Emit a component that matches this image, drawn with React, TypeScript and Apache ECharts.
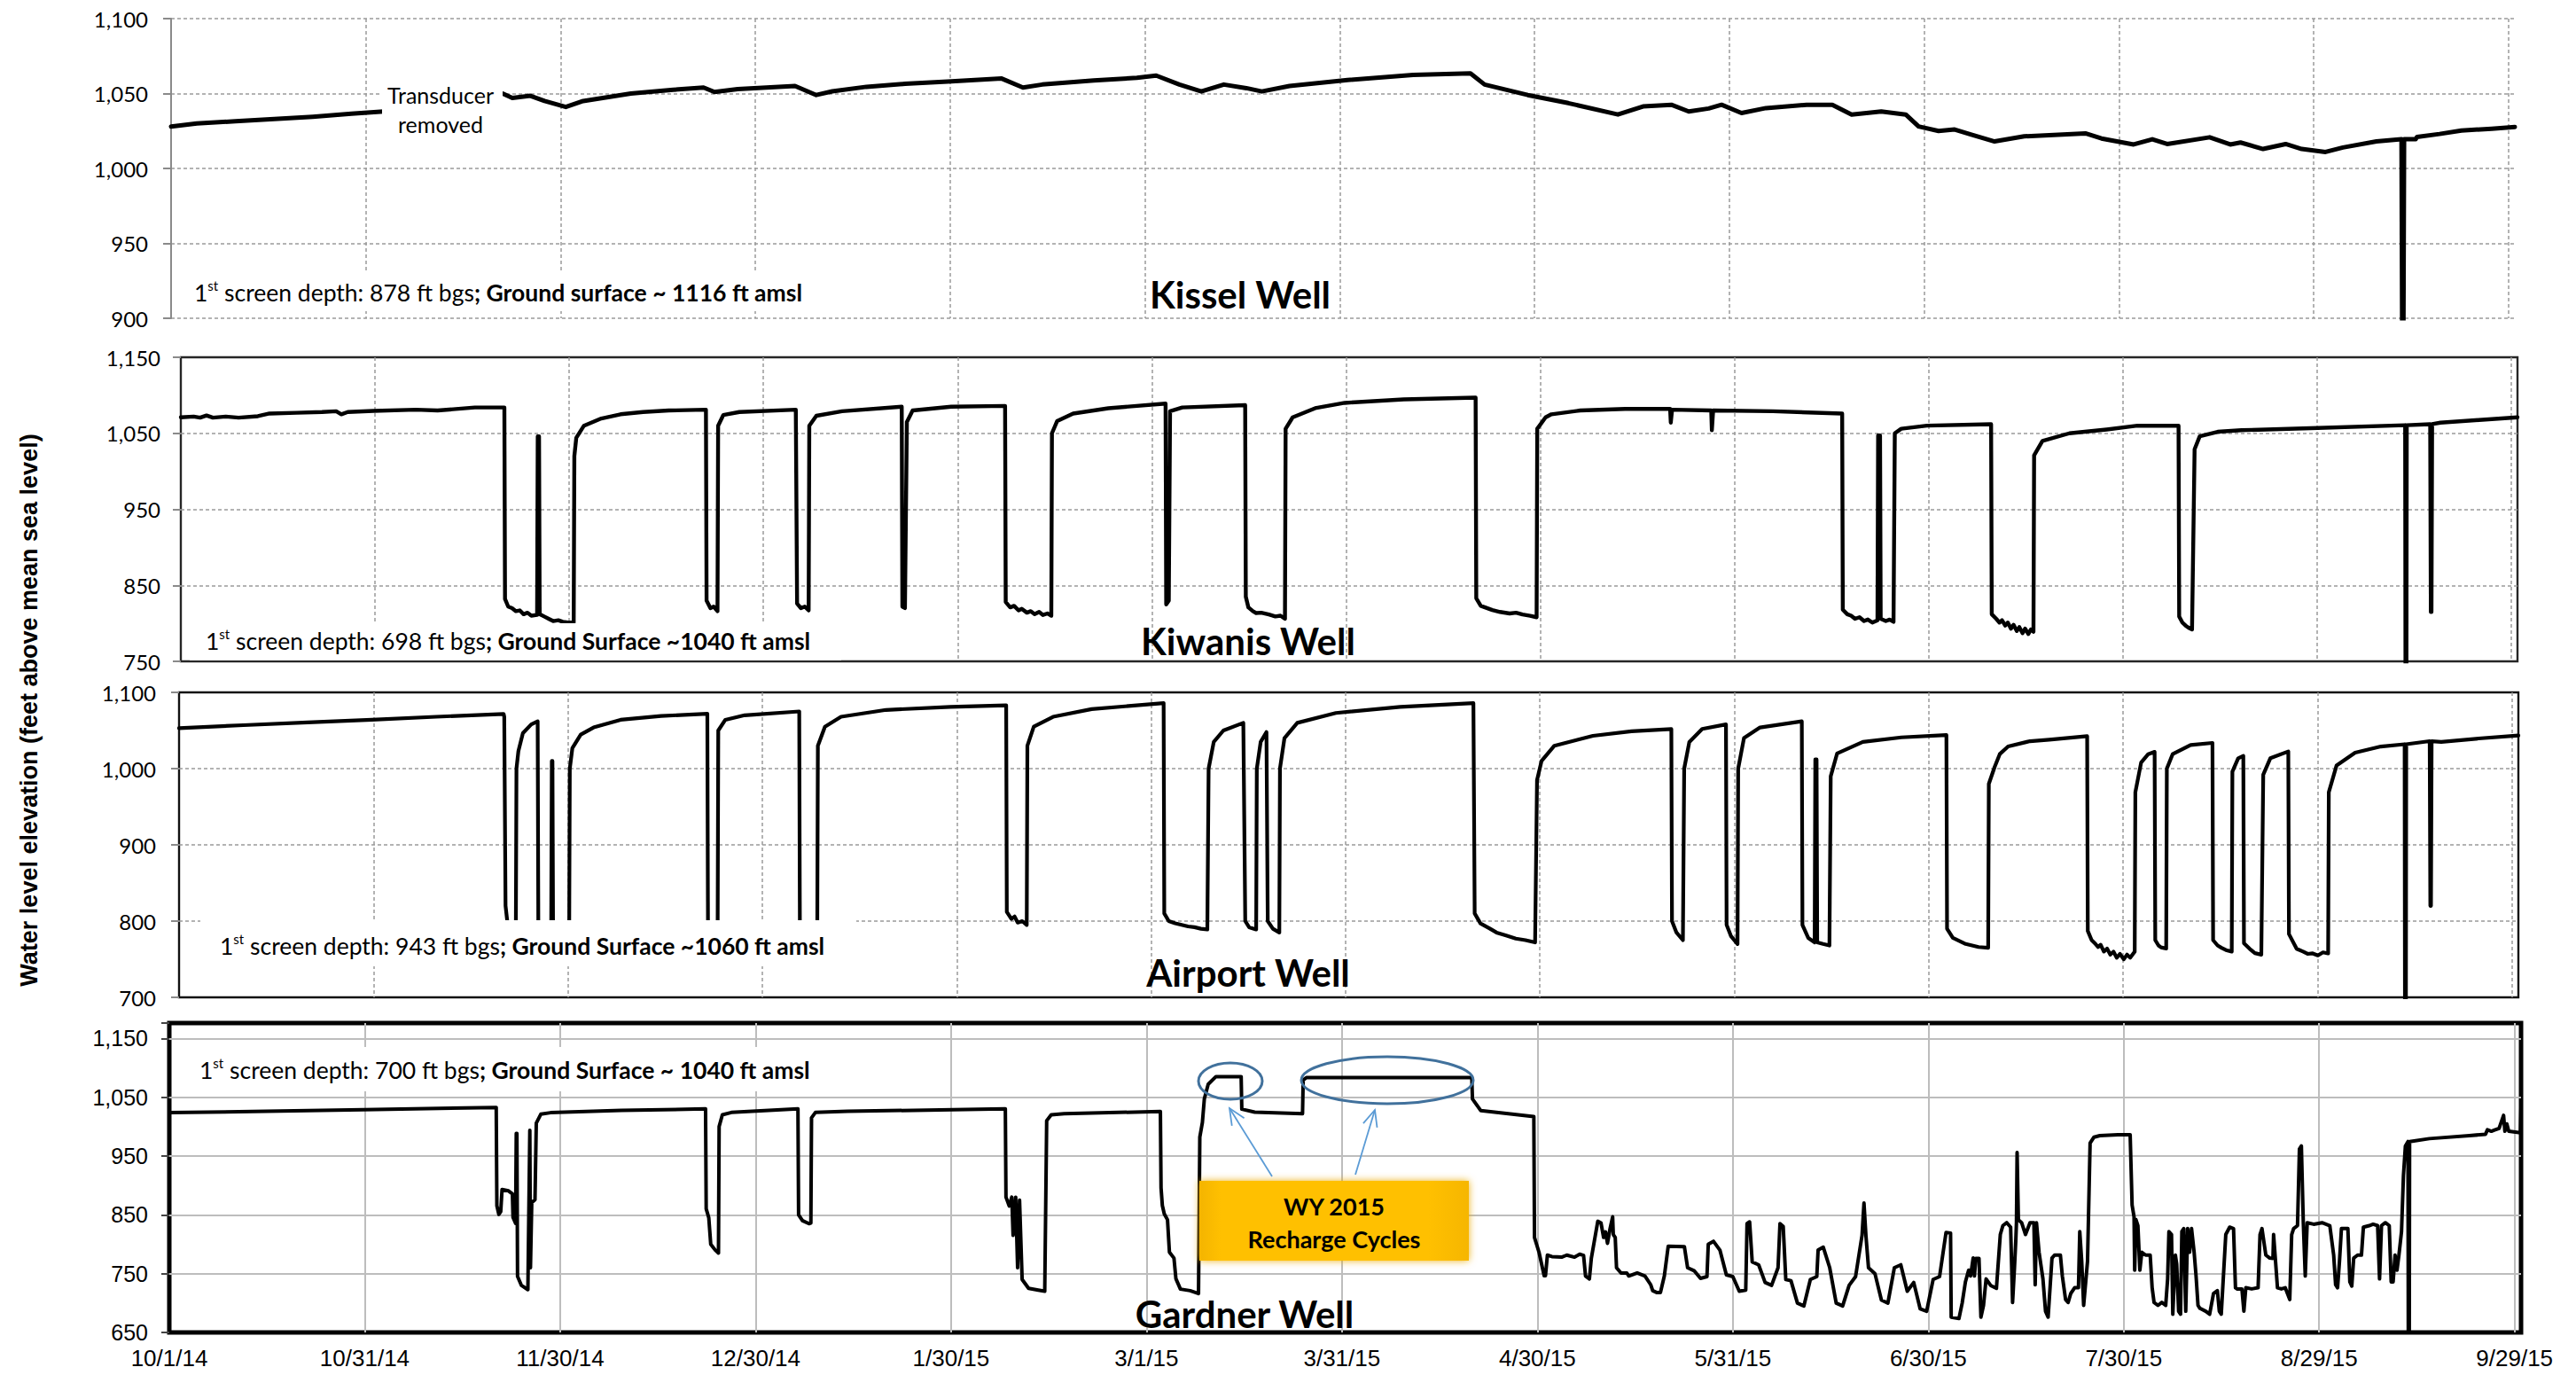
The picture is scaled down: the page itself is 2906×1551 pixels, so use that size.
import React, { useEffect, useRef } from 'react';
import * as echarts from 'echarts';

// Days are counted from 10/1/14 (day 0). Water levels in ft above mean sea level.
const DAY_SPAN = 364;
const TICK_STEP = 30.25;
const dateTicks = ['10/1/14', '10/31/14', '11/30/14', '12/30/14', '1/30/15', '3/1/15', '3/31/15', '4/30/15', '5/31/15', '6/30/15', '7/30/15', '8/29/15', '9/29/15'];

const kisselLevels: (number | null)[][] = [
  [0, 1028], [4, 1030], [10, 1031.5], [16, 1033], [22, 1034.5], [28, 1036.5], [33, 1038], [42, null],
  [51.5, 1050], [53, 1047], [55.8, 1048.5], [58, 1045], [61.3, 1041], [64, 1045], [71.4, 1050], [78, 1052.5],
  [82.7, 1054], [84.4, 1051], [88, 1053], [96.9, 1055], [100.2, 1049], [102.7, 1051.5], [108, 1054.5], [114, 1056.5],
  [120.6, 1058], [129, 1060], [132.3, 1054], [135.3, 1056], [143.3, 1058.7], [150, 1060.5], [153, 1062], [156.6, 1056],
  [160, 1051.4], [163.5, 1056], [167, 1053.6], [169.4, 1051.4], [173.7, 1055], [182.7, 1059], [192.9, 1062.4], [201.8, 1063.5],
  [204, 1056], [210.7, 1049], [217, 1043.6], [224.7, 1036], [228.6, 1041.4], [233, 1042.5], [235.7, 1038], [238.8, 1040],
  [240.8, 1042.5], [243.9, 1037], [247.7, 1040.3], [254, 1042.5], [258, 1042.5], [261, 1036], [265.6, 1038], [269.4, 1036],
  [271.4, 1028], [274.5, 1025], [277, 1026], [279.6, 1022.6], [283.2, 1018], [287.8, 1021.4], [297.3, 1023.4], [299.8, 1020],
  [304.8, 1016], [307.7, 1019.5], [310, 1016.3], [316.6, 1020.8], [319.8, 1016], [321.4, 1017.3], [324.9, 1013], [328.4, 1016.3],
  [330.9, 1013], [334.6, 1011], [337.3, 1014], [342.5, 1018], [346.4, 1019.5], [346.5, 895], [346.7, 895], [346.8, 1019.5],
  [348.6, 1019.5], [348.8, 1021], [352.3, 1023], [355.7, 1025.3], [360.4, 1026.5], [364, 1027.7],
];

const kiwanisLevels: number[][] = [
  [0, 1071], [2, 1072], [3, 1070.5], [4, 1073.5], [5, 1070.5], [7, 1072], [9, 1070.5], [12, 1072.5], [13.8, 1076], [18, 1077],
  [22, 1078], [24.2, 1079], [25, 1075], [26, 1078], [30, 1079.5], [36.6, 1081], [40, 1080], [45.8, 1084], [50.4, 1084],
  [50.5, 832], [51, 822], [51.6, 820], [52.2, 816], [52.8, 817], [53.4, 812], [54, 814], [54.6, 810], [55.5, 811],
  [55.6, 1046], [55.8, 1046], [55.9, 812], [56.6, 809], [57.3, 806], [58, 803], [58.8, 804], [59.5, 802], [60.3, 801], [61.2, 801],
  [61.3, 1020], [61.6, 1044], [62.8, 1060], [65.5, 1069.5], [68.5, 1075], [72, 1078], [76, 1080], [81.8, 1081],
  [81.9, 830], [82.5, 820], [83, 822], [83.6, 816], [83.7, 1060], [84.5, 1074], [87, 1078], [95.8, 1081],
  [96, 826], [96.6, 820], [97.2, 822], [97.8, 817], [97.9, 1060], [99, 1073], [103, 1079], [112.3, 1085],
  [112.4, 822], [112.8, 820], [113.1, 1065], [114, 1080], [120, 1085], [128.4, 1086],
  [128.5, 828], [129.2, 821], [129.8, 823], [130.5, 817], [131, 819], [131.8, 814], [132.4, 816], [133, 812], [133.7, 815],
  [134.3, 811], [135, 813], [135.6, 810], [135.7, 1050], [136.5, 1066], [139, 1076], [144.5, 1083], [153.4, 1089],
  [153.5, 825], [153.9, 830], [154.1, 1079], [156, 1084], [165.8, 1087],
  [165.9, 835], [166.3, 821], [167, 816], [167.5, 813.6], [168.3, 814], [169.5, 811.6], [170.5, 809], [171.3, 810], [172, 806],
  [172.1, 1056], [173.2, 1071], [176.7, 1083], [181.3, 1090], [190.5, 1094.6], [201.7, 1097],
  [201.8, 833], [202.5, 823], [204.3, 817.5], [205.5, 815], [207, 813], [208, 814], [209, 811.6], [210.2, 810], [211.2, 808],
  [211.3, 1056], [212.6, 1071], [213.5, 1075], [218, 1080], [225, 1082], [232, 1082], [232.1, 1064], [232.3, 1081],
  [238.4, 1080], [238.5, 1054], [238.7, 1080], [248, 1079], [258.8, 1076],
  [258.9, 818], [259.6, 812], [260.2, 810], [260.8, 806], [261.5, 808], [262.2, 803], [262.8, 805], [263.5, 801], [264.3, 804],
  [264.4, 1047], [264.7, 1047], [264.8, 806], [265.6, 803], [266.2, 805], [266.8, 802], [267, 1050], [268, 1056], [272, 1060], [282, 1062],
  [282.1, 812], [282.8, 806], [283.3, 801], [283.7, 804], [284.2, 797], [284.6, 801], [285.1, 793], [285.5, 798], [286, 790],
  [286.4, 795], [286.9, 787], [287.3, 793], [287.8, 786], [288.2, 792], [288.6, 789],
  [288.7, 1021], [290, 1040], [294.2, 1050], [300, 1055], [304.8, 1060], [311.2, 1060],
  [311.3, 809], [311.8, 801], [312.3, 797], [312.8, 794], [313.3, 792], [313.7, 1029], [314.5, 1046], [317.3, 1052], [321, 1054],
  [332.9, 1057], [346.5, 1060.7], [346.55, 740], [346.7, 740], [346.75, 1060.7], [350.4, 1062], [350.5, 815], [350.6, 815],
  [350.7, 1062], [352, 1064], [358, 1067.5], [364, 1071],
];

const airportLevels: number[][] = [
  [0, 1053], [10, 1057], [20, 1060.5], [30, 1064], [40, 1068], [50.5, 1071.7],
  [50.6, 1068], [50.8, 820], [51.2, 790], [52.4, 780], [52.5, 1000], [52.8, 1023], [53.5, 1046.5], [54.8, 1058], [55.8, 1062],
  [55.9, 800], [56.5, 780], [57.9, 778], [58, 1010], [58.1, 1010], [58.2, 778], [60.7, 775],
  [60.8, 1000], [61.2, 1027], [62.5, 1044.6], [64.5, 1054], [68.7, 1064], [75, 1069], [82.2, 1072],
  [82.3, 790], [83.8, 780], [83.9, 1050], [85, 1064], [88, 1070], [96.5, 1075],
  [96.6, 790], [99.3, 780], [99.4, 1030], [100.5, 1055], [103, 1068], [110, 1077], [120, 1081], [128.7, 1083],
  [128.8, 812], [129.5, 803], [130, 806], [130.5, 798], [131.2, 800], [131.9, 795],
  [132, 1030], [133, 1055], [136, 1068], [142, 1078], [153.2, 1086],
  [153.3, 810], [154, 800], [155, 797], [156, 795], [157, 793], [158, 792], [159, 790], [160, 789],
  [160.2, 1000], [161, 1035], [162.5, 1050], [165.6, 1060], [165.9, 800], [166.5, 792], [167.6, 789],
  [167.7, 1000], [168.3, 1035], [169.2, 1048], [169.4, 800], [170.2, 790], [171.2, 785],
  [171.3, 1000], [172, 1040], [174, 1060], [180, 1073], [190, 1081], [201.4, 1086],
  [201.6, 810], [202.5, 797], [204, 790], [205, 785], [206.5, 781], [208, 777], [209.5, 775], [211, 772],
  [211.3, 985], [212, 1010], [214, 1030], [220, 1043], [226, 1049], [232.2, 1052],
  [232.3, 800], [233, 785], [234, 775], [234.2, 1000], [235, 1035], [237, 1052], [240.7, 1058],
  [240.8, 795], [241.5, 780], [242.5, 770], [242.6, 1000], [243.5, 1040], [246, 1054], [252.5, 1062],
  [252.6, 795], [253.5, 778], [254.5, 772], [254.6, 1012], [254.8, 1012], [254.9, 772], [255.8, 770], [256.8, 768],
  [257, 990], [258, 1020], [262, 1035], [268, 1041], [275, 1044],
  [275.1, 790], [276, 778], [277, 774], [278, 770], [279, 768], [280, 766], [281.5, 765],
  [281.6, 980], [282.5, 1002], [283.3, 1019], [284.6, 1029], [288, 1036], [291, 1038], [296.9, 1042.6],
  [297, 787], [297.6, 775], [298.2, 770], [298.6, 766], [299, 769], [299.5, 760], [300, 764], [300.5, 756], [301, 760],
  [301.5, 752], [302, 757], [302.6, 750], [303.1, 756], [303.6, 752], [304.3, 760],
  [304.4, 969], [305.3, 1008], [306.4, 1019], [307.4, 1022], [307.5, 775], [308, 768], [308.4, 765.5], [309.2, 764],
  [309.3, 1000], [310.2, 1019], [313, 1031], [316.4, 1033.7], [316.5, 775], [317.2, 768], [317.8, 765], [318.5, 762], [319.4, 760],
  [319.5, 996], [320.4, 1013.6], [321.2, 1016.7], [321.3, 771], [322.2, 763.6], [323, 758], [324, 756],
  [324.3, 992], [325.4, 1013.6], [328.2, 1022.5], [328.3, 783], [329.5, 763.6], [330.5, 760], [331.2, 757], [332, 757.6],
  [332.8, 755], [333.6, 759], [334.4, 757.6],
  [334.5, 969], [335.7, 1004], [338.6, 1021], [342.6, 1029], [346.3, 1032], [346.35, 695], [346.5, 695], [346.55, 1032],
  [350.2, 1036], [350.3, 820], [350.4, 820], [350.5, 1036], [352, 1035], [357.8, 1039.5], [364, 1043.4],
];

const gardnerLevels: number[][] = [
  [0, 1023.6], [30, 1028.6], [50.6, 1032.6],
  [50.7, 865.6], [51, 850.6], [51.3, 855.6], [51.5, 893], [52.5, 890.7], [53.1, 885.7], [53.2, 845.6], [53.6, 835.6],
  [53.7, 988.5], [53.8, 988.5], [53.9, 745.3], [54.5, 730], [55.5, 722.7], [55.8, 993.5], [55.9, 760], [56.1, 870.7],
  [56.6, 875.7], [56.8, 1006], [57.5, 1021], [59, 1023.6], [70, 1027.6], [83, 1030],
  [83.1, 860], [83.5, 845], [83.8, 800], [84.5, 790], [85, 785], [85.1, 1000], [85.6, 1020], [87, 1024], [97.3, 1030],
  [97.4, 850], [98, 840], [99, 835], [99.3, 836], [99.4, 1015], [100, 1024], [105, 1026], [129.4, 1030],
  [129.5, 880], [130, 865], [130.4, 880], [130.6, 815], [131, 880], [131.3, 760], [131.6, 875], [132, 740], [133, 725],
  [134.5, 722], [135.5, 720], [135.8, 1010], [136.5, 1020], [138.5, 1022], [153.4, 1025.6],
  [153.5, 896], [153.7, 866], [154, 851.6], [154.5, 841.6], [154.8, 786.4], [155.5, 776.4], [155.8, 741.3], [156.5, 723.7],
  [158, 721], [159.3, 716], [159.5, 982], [159.9, 1007], [160.2, 1047], [160.8, 1072], [162, 1085], [165.9, 1085],
  [166, 1029.6], [168, 1024.6], [175.4, 1022], [175.5, 1079], [176, 1083.3], [201.6, 1083.3],
  [201.7, 1047], [203, 1027], [211.2, 1017],
  [211.3, 811.5], [212, 786.4], [212.8, 746.3], [213, 746.3], [213.3, 781.5], [214, 779], [215.5, 778], [216.3, 781.5],
  [217.5, 778], [218.3, 783], [218.9, 781], [219.2, 746], [219.8, 741], [220.1, 776], [221.1, 839], [221.6, 836], [222, 811.5],
  [222.3, 821], [222.6, 801.5], [223, 826.6], [223.4, 846.6], [223.5, 816.5], [223.8, 811.5], [224, 760], [224.7, 751],
  [225.6, 751], [225.9, 746], [227.2, 751], [228.4, 746], [229.3, 731], [229.6, 721], [230.2, 718], [230.8, 718], [231.4, 746],
  [232, 796.5], [234.5, 796], [235, 760], [236, 755], [237, 742], [238, 745], [238.2, 800], [239, 805], [240, 790], [241, 748],
  [242, 745], [243, 720], [244, 722], [244.2, 835], [244.6, 838], [245, 770], [246, 765], [247, 735], [248, 730], [249, 760],
  [249.3, 835], [249.8, 830], [250.2, 740], [251, 738], [252, 700], [253, 695], [254, 740], [255, 745], [255.2, 790], [256, 795],
  [257, 760], [258, 700], [259, 695], [260, 730], [261, 745], [262, 815], [262.3, 870], [262.6, 815], [263, 760], [264, 750],
  [265, 705], [266, 700], [267, 760], [268, 765], [269, 720], [270, 735], [271, 690], [272, 686], [273, 740], [274, 745],
  [275, 820], [275.7, 819],
  [275.8, 676], [277, 673.6], [277.5, 700], [278, 736], [278.5, 756], [278.8, 746], [279.2, 776.5], [279.4, 746], [279.6, 776],
  [280.1, 776], [280.4, 676], [280.8, 696], [281.2, 741], [281.9, 730], [282.8, 725], [283.4, 816.5], [283.8, 831.6],
  [284.4, 836.6], [285, 829], [285.3, 701], [285.6, 761], [285.8, 806.5], [285.9, 836.6], [286, 956], [286.2, 841.6],
  [286.7, 836.6], [287.3, 816.5], [288, 836.6], [288.6, 836.6], [288.8, 731], [289, 836.6], [289.4, 786.4], [290, 741],
  [290.4, 686], [290.8, 676], [291.1, 726], [291.4, 776.5], [291.8, 781.5], [292.7, 781.5], [293, 746], [293.5, 706],
  [293.9, 701], [294.3, 716], [294.6, 721], [294.9, 726], [295.5, 726], [295.7, 821.5], [296, 771], [296.3, 696], [296.9, 771],
  [297.3, 972], [297.9, 982], [298.8, 984.5], [301.6, 986], [303.5, 986],
  [303.8, 866.6], [304.1, 846.6], [304.2, 756], [304.4, 841.6], [304.7, 831.6], [305, 756], [305.3, 786.4], [305.9, 781.5],
  [306.6, 781.5], [306.9, 726], [307.2, 701], [307.8, 696], [308.4, 701], [309, 696], [309.3, 741], [309.5, 821.5],
  [309.9, 816.5], [310.1, 681], [310.5, 781.5], [310.7, 766.5], [311, 686], [311.3, 681], [311.5, 821.5], [311.8, 826.6],
  [312.1, 686], [312.4, 826.6], [312.7, 786.4], [313, 826.6], [313.4, 786.4], [313.7, 746], [314, 696], [314.3, 691],
  [315.2, 686], [315.8, 681], [316.4, 716], [317, 721], [317.3, 686], [317.6, 681], [318.3, 816.5], [318.9, 829],
  [319.5, 826.6], [319.8, 726], [320.1, 723.7], [320.8, 723.7], [321.1, 686], [321.4, 726], [322.3, 724], [323.3, 726],
  [323.6, 816.5], [323.9, 826.6], [324.5, 781.5], [325.1, 776.5], [325.6, 776], [325.7, 816.5], [326.3, 726], [326.9, 724],
  [327.5, 726], [328.2, 706], [328.5, 816.5], [328.8, 826.6], [329.4, 831.6], [329.7, 962], [330, 967], [330.3, 836.6],
  [330.6, 746], [330.9, 836.6], [331.9, 834], [333.2, 836.6], [334.4, 831.6], [335, 781.5], [335.3, 731], [335.6, 726],
  [335.9, 771], [336.2, 826.6], [337.2, 826.6], [337.5, 736], [337.8, 728.7], [338.1, 776.5], [338.7, 781.5], [339.3, 781.5],
  [339.6, 829], [340.5, 831.6], [341.1, 834], [341.8, 831.6], [342.1, 741], [342.4, 831.6], [343, 836.6], [343.6, 831.6],
  [343.9, 736], [344.2, 736], [344.5, 781.5], [344.8, 756], [345.1, 781.5], [345.5, 821.5], [345.8, 917], [346.1, 967],
  [346.5, 974.5], [346.55, 640], [346.7, 640], [346.75, 974.5], [349.8, 979.5], [356, 984.5], [358.5, 987], [358.8, 994.5],
  [359.4, 992], [360, 994.5], [360.6, 997], [361.3, 1019], [361.5, 992], [361.8, 1004.5], [362.1, 992], [363.9, 989.5], [364, 1032],
];

const wellNames = ['Kissel Well', 'Kiwanis Well', 'Airport Well', 'Gardner Well'];
const screenDepths = ['878', '698', '943', '700'];
const groundNotes = ['; Ground surface ~ 1116 ft amsl', '; Ground Surface ~1040 ft amsl', '; Ground Surface ~1060 ft amsl', '; Ground Surface ~ 1040 ft amsl'];
const yRanges = [
  { min: 900, max: 1100, step: 50 },
  { min: 750, max: 1150, step: 100 },
  { min: 700, max: 1100, step: 100 },
  { min: 650, max: 1176, step: 100 },
];

// panel geometry in page pixels
const panelBoxes = [
  { left: 193, top: 21, width: 2644, height: 338, labelMargin: 26 },
  { left: 204, top: 403, width: 2636, height: 343, labelMargin: 23 },
  { left: 202, top: 781, width: 2639, height: 344, labelMargin: 26 },
  { left: 191, top: 1154, width: 2653, height: 349, labelMargin: 24 },
];
const noteSpots = [
  { x: 219, y: 330, box: [200, 305, 740, 46] },
  { x: 232, y: 723, box: [214, 703, 735, 42] },
  { x: 248, y: 1067, box: [226, 1038, 740, 52] },
  { x: 225, y: 1207, box: [212, 1181, 735, 50] },
];
const titleSpots = [[1399, 332], [1408, 723], [1408, 1097], [1404, 1482]];

const CAL = 'Lato, "Open Sans", sans-serif';
const ARIAL = '"Liberation Sans", Arial, sans-serif';

const fmtThousands = (v: number) => v.toLocaleString('en-US');

function arrowParts(x1: number, y1: number, x2: number, y2: number) {
  const a = Math.atan2(y2 - y1, x2 - x1);
  const L = 20;
  const s = 0.42;
  const stroke = '#5B9BD5';
  return [
    { type: 'line', z: 80, shape: { x1, y1, x2, y2 }, style: { stroke, lineWidth: 1.8 } },
    {
      type: 'polyline', z: 80,
      shape: { points: [[x2 - L * Math.cos(a - s), y2 - L * Math.sin(a - s)], [x2, y2], [x2 - L * Math.cos(a + s), y2 - L * Math.sin(a + s)]] },
      style: { stroke, lineWidth: 1.8, fill: 'none' },
    },
  ];
}

export default function App() {
  const ref = useRef<HTMLDivElement>(null);

  useEffect(() => {
    document.body.style.margin = '0';
    if (!ref.current) return;
    const chart = echarts.init(ref.current, undefined, { renderer: 'svg' });
    const series = [kisselLevels, kiwanisLevels, airportLevels, gardnerLevels];
    const lineWidths = [5, 4.4, 4.2, 4];

    const grids = panelBoxes.map((b, i) => ({
      left: b.left, top: b.top, width: b.width, height: b.height,
      show: i > 0,
      borderColor: i === 3 ? '#000' : i === 1 ? '#262626' : '#111',
      borderWidth: i === 3 ? 5 : 2.4,
      backgroundColor: 'transparent',
      containLabel: false,
    }));

    const gridLineStyle = (i: number) =>
      i === 3 ? { color: '#bdbdbd', width: 2, type: 'solid' } : { color: '#9a9a9a', width: 1.5, type: [4, 3] };

    const xAxes = panelBoxes.map((_, i) => ({
      gridIndex: i, type: 'value', min: 0, max: DAY_SPAN, interval: TICK_STEP,
      axisLine: { show: false }, axisTick: { show: false },
      axisLabel: {
        show: i === 3, margin: 16, color: '#000', fontFamily: ARIAL, fontSize: 26,
        formatter: (v: number) => {
          const k = Math.round(v / TICK_STEP);
          return Math.abs(v - k * TICK_STEP) < 1e-6 && k < dateTicks.length ? dateTicks[k] : '';
        },
      },
      splitLine: { show: true, showMinLine: i === 0, showMaxLine: false, lineStyle: gridLineStyle(i) },
    }));

    const yAxes = yRanges.map((r, i) => ({
      gridIndex: i, type: 'value', min: r.min, max: r.max, interval: r.step,
      axisLine: { show: i === 0, lineStyle: { color: '#8a8a8a', width: 2 } },
      axisTick: { show: true, inside: false, length: 9, lineStyle: { color: i === 3 ? '#444' : '#8a8a8a', width: 2 } },
      axisLabel: {
        margin: panelBoxes[i].labelMargin, color: '#000',
        fontFamily: i === 3 ? ARIAL : CAL, fontSize: i === 3 ? 25 : 24,
        formatter: (v: number) => ((v - r.min) % r.step === 0 ? fmtThousands(v) : ''),
      },
      splitLine: { show: true, showMinLine: i === 0, showMaxLine: i === 0, lineStyle: gridLineStyle(i) },
    }));

    const lineSeries = series.map((d, i) => ({
      type: 'line', xAxisIndex: i, yAxisIndex: i, data: d,
      showSymbol: false, symbol: 'none', connectNulls: false, clip: true, z: 3,
      lineStyle: { color: '#000', width: lineWidths[i], join: 'round', cap: 'round' },
      emphasis: { disabled: true },
    }));

    const graphics: any[] = [];

    // y axis title
    graphics.push({
      type: 'text', x: 33, y: 801, rotation: Math.PI / 2, z: 90,
      style: { text: 'Water level elevation (feet above mean sea level)', font: `bold 27px ${ARIAL}`, fill: '#000', align: 'center', verticalAlign: 'middle' },
    });

    noteSpots.forEach((n, i) => {
      const [bx, by, bw, bh] = n.box;
      graphics.push({ type: 'rect', z: 60, shape: { x: bx, y: by, width: bw, height: bh }, style: { fill: '#fff' } });
      graphics.push({
        type: 'text', x: n.x, y: n.y, z: 61,
        style: {
          text: `{n|1}{s|st}{n| screen depth: ${screenDepths[i]} ft bgs}{b|${groundNotes[i]}}`,
          align: 'left', verticalAlign: 'middle',
          rich: {
            n: { fontFamily: CAL, fontSize: 26.5, lineHeight: 32, color: '#000' },
            s: { fontFamily: CAL, fontSize: 15, lineHeight: 15, verticalAlign: 'top', color: '#000' },
            b: { fontFamily: CAL, fontSize: 26.5, fontWeight: 'bold', lineHeight: 32, color: '#000' },
          },
        },
      });
      graphics.push({
        type: 'text', x: titleSpots[i][0], y: titleSpots[i][1], z: 62,
        style: { text: wellNames[i], font: `bold 42px ${CAL}`, fill: '#000', align: 'center', verticalAlign: 'middle' },
      });
    });

    // transducer note on the Kissel record
    graphics.push({ type: 'rect', z: 60, shape: { x: 431, y: 88, width: 136, height: 70 }, style: { fill: '#fff' } });
    graphics.push({ type: 'text', x: 497, y: 107, z: 61, style: { text: 'Transducer', font: `25px ${CAL}`, fill: '#000', align: 'center', verticalAlign: 'middle' } });
    graphics.push({ type: 'text', x: 497, y: 140, z: 61, style: { text: 'removed', font: `25px ${CAL}`, fill: '#000', align: 'center', verticalAlign: 'middle' } });

    // recharge cycle callout on the Gardner record
    graphics.push({ type: 'ellipse', z: 75, shape: { cx: 1388, cy: 1219.5, rx: 36, ry: 20.5 }, style: { stroke: '#41719C', lineWidth: 3, fill: 'none' } });
    graphics.push({ type: 'ellipse', z: 75, shape: { cx: 1565, cy: 1218.5, rx: 97, ry: 26.5 }, style: { stroke: '#41719C', lineWidth: 3, fill: 'none' } });
    graphics.push(...arrowParts(1435, 1327, 1387, 1250));
    graphics.push(...arrowParts(1529, 1325, 1551, 1252));
    graphics.push({
      type: 'rect', z: 76, shape: { x: 1353, y: 1332, width: 304, height: 90 },
      style: {
        fill: new echarts.graphic.LinearGradient(0, 0, 1, 0, [
          { offset: 0, color: '#F4B400' }, { offset: 0.08, color: '#FFC000' },
          { offset: 0.85, color: '#FFC000' }, { offset: 1, color: '#F6B600' },
        ]),
        shadowBlur: 8, shadowColor: 'rgba(235,170,0,0.9)',
      },
    });
    graphics.push({ type: 'text', x: 1505, y: 1360, z: 77, style: { text: 'WY 2015', font: `bold 27px ${CAL}`, fill: '#000', align: 'center', verticalAlign: 'middle' } });
    graphics.push({ type: 'text', x: 1505, y: 1397, z: 77, style: { text: 'Recharge Cycles', font: `bold 27px ${CAL}`, fill: '#000', align: 'center', verticalAlign: 'middle' } });

    chart.setOption({
      animation: false,
      backgroundColor: '#fff',
      grid: grids,
      xAxis: xAxes,
      yAxis: yAxes,
      series: lineSeries,
      graphic: { elements: graphics },
    });

    return () => chart.dispose();
  }, []);

  return <div ref={ref} style={{ width: 2906, height: 1551 }} />;
}
